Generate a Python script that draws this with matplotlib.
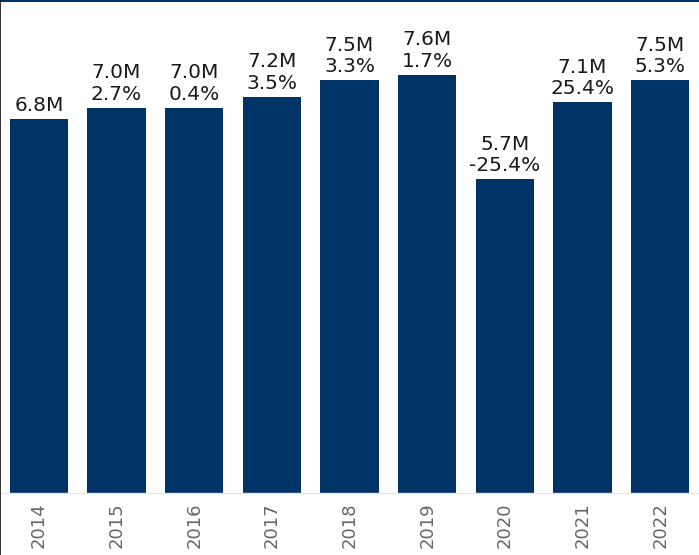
import matplotlib.pyplot as plt
from matplotlib.lines import Line2D

years = ["2014", "2015", "2016", "2017", "2018", "2019", "2020", "2021", "2022"]
values = [6.8, 7.0, 7.0, 7.2, 7.5, 7.6, 5.7, 7.1, 7.5]  # millions
changes = [None, "2.7%", "0.4%", "3.5%", "3.3%", "1.7%", "-25.4%", "25.4%", "5.3%"]

BAR = "#003366"

fig = plt.figure(figsize=(6.99, 5.55), dpi=100)
ax = fig.add_axes([0, 62 / 555, 1, 493 / 555])

x = range(len(years))
ax.bar(x, values, width=0.75, color=BAR, zorder=2)
ax.set_xlim(-0.5, len(years) - 0.5)
ax.set_ylim(0, 8.96)

for i, (v, c) in enumerate(zip(values, changes)):
    txt = f"{v:.1f}M" if c is None else f"{v:.1f}M\n{c}"
    ax.annotate(txt, (i, v), xytext=(0, 3), textcoords="offset points",
                ha="center", va="bottom", fontsize=14.5, color="#1a1a1a",
                linespacing=1.15, family="DejaVu Sans")

ax.set_xticks(list(x))
ax.set_xticklabels(years, rotation=90, fontsize=13, color="#666666")
ax.tick_params(axis="x", length=0, pad=7)
ax.set_yticks([])
for s in ["top", "right", "left"]:
    ax.spines[s].set_visible(False)
ax.spines["bottom"].set_color("#e6e6e6")
ax.spines["bottom"].set_linewidth(1)

# frame lines at figure edges
fig.add_artist(Line2D([0, 1], [0.999, 0.999], transform=fig.transFigure,
                      color="#003366", linewidth=1.5))
fig.add_artist(Line2D([0.0007, 0.0007], [0, 1], transform=fig.transFigure,
                      color="#111111", linewidth=1.2))

fig.savefig("out.png", dpi=100, facecolor="white")
